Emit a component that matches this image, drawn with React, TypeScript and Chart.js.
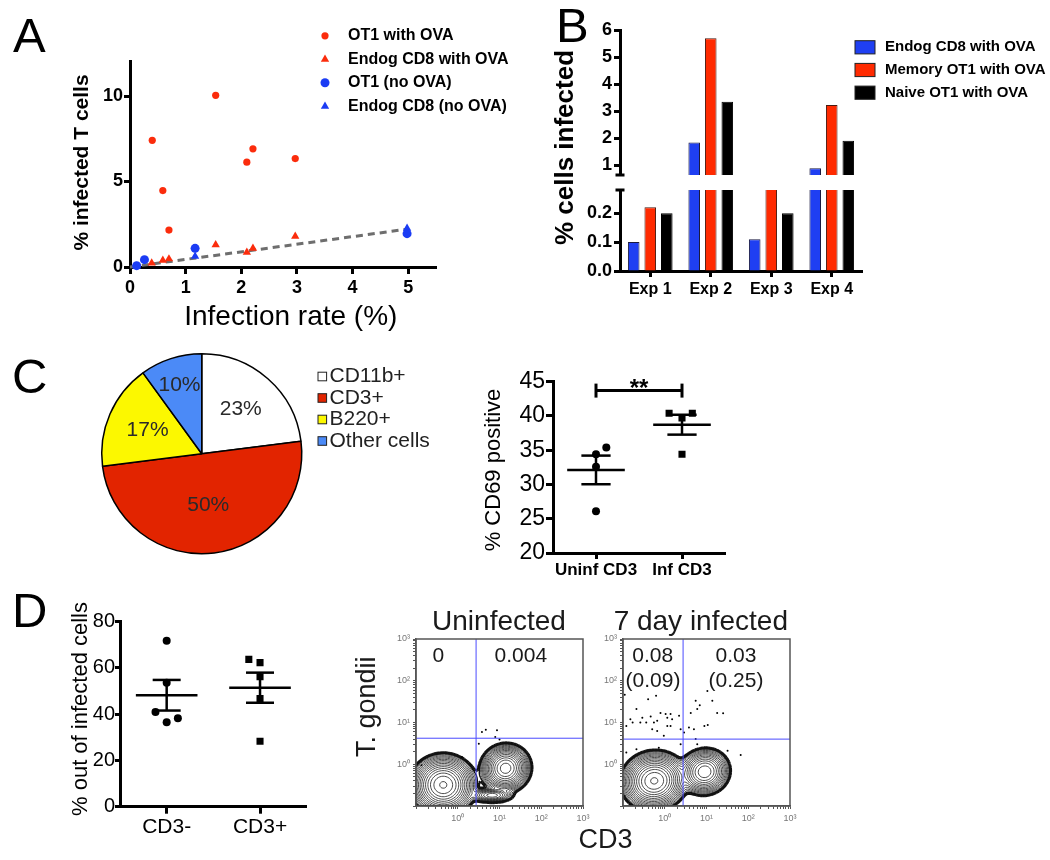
import React, { useEffect, useRef } from 'react';
import { Chart, registerables } from 'chart.js';

Chart.register(...registerables);

const W = 1050;
const H = 860;
const FONT = "'Liberation Sans', Arial, Helvetica, sans-serif";
Chart.defaults.font.family = FONT;
Chart.defaults.color = '#000';

// ================= DATA =================
// Panel A: % infected T cells vs infection rate (%)
const aOT1OvaRate = [0.40, 0.59, 0.70, 1.54, 2.10, 2.21, 2.97];
const aOT1OvaInfected = [7.41, 4.47, 2.16, 10.04, 6.13, 6.91, 6.34];
const aEndogOvaRate = [0.39, 0.59, 0.70, 1.54, 2.10, 2.21, 2.97];
const aEndogOvaInfected = [0.23, 0.39, 0.47, 1.30, 0.86, 1.09, 1.79];
const aOT1NoOvaRate = [0.12, 0.26, 1.17, 4.98];
const aOT1NoOvaInfected = [0.08, 0.43, 1.09, 1.95];
const aEndogNoOvaRate = [0.12, 1.17, 4.98];
const aEndogNoOvaInfected = [0.04, 0.62, 2.26];
const aFitRate = [0, 5];
const aFitInfected = [0, 2.22];
const aXTicks = [0, 1, 2, 3, 4, 5];
const aYTicks = [0, 5, 10];

// Panel B: % cells infected per experiment
const bExperiments = ['Exp 1', 'Exp 2', 'Exp 3', 'Exp 4'];
const bEndogCD8 = [0.10, 1.83, 0.11, 0.88];
const bMemoryOT1 = [0.22, 5.69, 0.40, 3.22];
const bNaiveOT1 = [0.20, 3.34, 0.20, 1.90];
const bTopTicks = [1, 2, 3, 4, 5, 6];
const bBottomTicks = [0, 0.1, 0.2];

// Panel C: pie of infected cell types
const cCellTypes = ['CD11b+', 'CD3+', 'B220+', 'Other cells'];
const cCellShares = [23, 50, 17, 10];
// Panel C: % CD69 positive
const cGroups = ['Uninf CD3', 'Inf CD3'];
const cUninfCD69 = [34.4, 35.4, 32.6, 26.1];
const cInfCD69 = [40.4, 40.4, 39.7, 34.4];
const cYTicks = [20, 25, 30, 35, 40, 45];
const cSignificanceLevel = 43.7;

// Panel D: % out of infected cells
const dGroups = ['CD3-', 'CD3+'];
const dCD3Neg = [71.8, 53.6, 40.9, 36.5, 38.2];
const dCD3Pos = [63.7, 62.3, 56.2, 46.8, 28.3];
const dYTicks = [0, 20, 40, 60, 80];

// Panel D: flow cytometry (CD3 vs T. gondii), log axes
const fUninfEventsCD3 = [4.7, 3.8, 8.7, 10, 7.9, 3.2, 1.26, 0.135];
const fUninfEventsTg = [6.7, 5.9, 6.5, 3.9, 4.5, 3.1, 1.5, 0.95];
const fInfEventsCD3 = [0.11, 0.40, 0.62, 0.21, 0.15, 0.29, 0.46, 0.66, 1.05, 1.38, 1.15, 1.5, 2.2, 0.79, 0.17, 0.26, 0.36, 0.55, 1.15, 1.38, 0.5, 0.66, 0.95, 2.4, 0.12,
  10.5, 5.5, 6.9, 13.8, 6.0, 4.2, 18, 25, 10.7, 8.9, 5.0, 3.8, 2.9, 5.5,
  0.21, 0.72, 6.0, 66, 0.12, 32, 2.4];
const fInfEventsTg = [46, 36, 44, 21, 12, 13, 14, 11, 16, 16, 13, 12, 14.5, 17, 10, 10, 10, 10, 8.3, 8.3, 6.9, 6.3, 4.8, 6.9, 8.3,
  57, 33, 26, 33, 21, 17, 17, 16.6, 8.7, 8.3, 6.9, 7.6, 5.8, 4.0,
  2.3, 2.5, 3.0, 1.66, 1.9, 2.1, 3.0];
// cell populations behind the contours: centre (CD3, T. gondii), spread (decades), tilt (deg), relative weight
const fUninfPopCD3 = [0.45, 14, 6.6];
const fUninfPopTg = [0.32, 0.8, 0.18];
const fUninfPopSigmaCD3 = [0.27, 0.21, 0.2];
const fUninfPopSigmaTg = [0.25, 0.2, 0.07];
const fUninfPopTilt = [0, 20, 0];
const fUninfPopWeight = [1, 0.85, 0.2];
const fInfPopCD3 = [0.56, 9];
const fInfPopTg = [0.4, 0.66];
const fInfPopSigmaCD3 = [0.27, 0.22];
const fInfPopSigmaTg = [0.24, 0.2];
const fInfPopTilt = [10, 15];
const fInfPopWeight = [1, 0.5];
const fUninfGate = [2.75, 4.2];
const fInfGate = [2.75, 4.0];

// ================= STYLE / HELPERS =================
const RED = '#fb2c0c';
const BLUE = '#1b3cf4';

interface Txt { s: string; x: number; y: number; size: number; bold?: boolean; align?: CanvasTextAlign; base?: CanvasTextBaseline; rot?: number; color?: string; }

function drawTexts(ctx: CanvasRenderingContext2D, items: Txt[]) {
  for (const t of items) {
    ctx.save();
    ctx.font = `${t.bold ? 'bold ' : ''}${t.size}px ${FONT}`;
    ctx.fillStyle = t.color || '#000';
    ctx.textAlign = t.align || 'center';
    ctx.textBaseline = t.base || 'alphabetic';
    ctx.translate(t.x, t.y);
    if (t.rot) ctx.rotate((t.rot * Math.PI) / 180);
    ctx.fillText(t.s, 0, 0);
    ctx.restore();
  }
}

function seg(ctx: CanvasRenderingContext2D, x1: number, y1: number, x2: number, y2: number, w: number, color = '#000') {
  ctx.save();
  ctx.strokeStyle = color;
  ctx.lineWidth = w;
  ctx.beginPath();
  ctx.moveTo(x1, y1);
  ctx.lineTo(x2, y2);
  ctx.stroke();
  ctx.restore();
}

function marker(ctx: CanvasRenderingContext2D, style: string, x: number, y: number, r: number, color: string) {
  ctx.save();
  ctx.fillStyle = color;
  ctx.beginPath();
  if (style === 'triangle') {
    let rad = 0;
    ctx.moveTo(x + Math.sin(rad) * r, y - Math.cos(rad) * r);
    rad += (2 * Math.PI) / 3;
    ctx.lineTo(x + Math.sin(rad) * r, y - Math.cos(rad) * r);
    rad += (2 * Math.PI) / 3;
    ctx.lineTo(x + Math.sin(rad) * r, y - Math.cos(rad) * r);
    ctx.closePath();
  } else {
    ctx.arc(x, y, r, 0, Math.PI * 2);
  }
  ctx.fill();
  ctx.restore();
}

const fixW = (w: number) => (s: any) => { s.width = w; };
const fixH = (h: number) => (s: any) => { s.height = h; };
const setTicks = (vals: number[]) => (s: any) => { s.ticks = vals.map((v) => ({ value: v })); };

// padding so that the chart area lands at (l,t)-(r,b) on the full-page canvas
function area(l: number, t: number, r: number, b: number, yw: number, xh: number) {
  return { left: l - yw, top: t, right: W - r, bottom: H - b - xh };
}

function baseOptions(padding: any) {
  return {
    responsive: false,
    animation: false,
    devicePixelRatio: 1,
    events: [],
    layout: { padding },
    plugins: { legend: { display: false }, tooltip: { enabled: false }, title: { display: false } },
  };
}

function prismScale(extra: any, tickLen: number, size: number, bold: boolean, pad: number, lw = 3) {
  return {
    ...extra,
    border: { display: true, color: '#000', width: lw },
    grid: { display: true, drawOnChartArea: false, drawTicks: true, tickLength: tickLen, tickWidth: lw, color: '#000', offset: false },
    ticks: {
      color: '#000',
      font: { family: FONT, size, weight: bold ? 'bold' : 'normal' },
      padding: pad,
      autoSkip: false,
      maxRotation: 0,
      minRotation: 0,
      ...(extra.ticks || {}),
    },
  };
}

const pts = (xs: number[], ys: number[]) => xs.map((x, i) => ({ x, y: ys[i] }));

function meanSem(v: number[]): [number, number] {
  const n = v.length;
  const m = v.reduce((a, b) => a + b, 0) / n;
  const sd = Math.sqrt(v.reduce((a, b) => a + (b - m) ** 2, 0) / (n - 1));
  return [m, sd / Math.sqrt(n)];
}

function drawMeanSem(chart: any, groups: number[][], half: number, cap: number) {
  const { ctx, scales } = chart;
  const X = (v: number) => scales.x.getPixelForValue(v);
  const Y = (v: number) => scales.y.getPixelForValue(v);
  groups.forEach((vals, i) => {
    const g = i + 1;
    const [m, s] = meanSem(vals);
    seg(ctx, X(g - half), Y(m), X(g + half), Y(m), 2.5);
    seg(ctx, X(g), Y(m - s), X(g), Y(m + s), 2.5);
    seg(ctx, X(g - cap), Y(m + s), X(g + cap), Y(m + s), 2.5);
    seg(ctx, X(g - cap), Y(m - s), X(g + cap), Y(m - s), 2.5);
  });
}

// ================= PANEL A =================
function chartA(): any {
  return {
    type: 'scatter',
    data: {
      datasets: [
        { label: 'OT1 with OVA', data: pts(aOT1OvaRate, aOT1OvaInfected), pointStyle: 'circle', pointRadius: 3.6, pointBackgroundColor: RED, pointBorderWidth: 0, clip: false },
        { label: 'Endog CD8 with OVA', data: pts(aEndogOvaRate, aEndogOvaInfected), pointStyle: 'triangle', pointRadius: 4.8, pointBackgroundColor: RED, pointBorderWidth: 0, clip: false },
        { label: 'OT1 (no OVA)', data: pts(aOT1NoOvaRate, aOT1NoOvaInfected), pointStyle: 'circle', pointRadius: 4.5, pointBackgroundColor: BLUE, pointBorderWidth: 0, clip: false },
        { label: 'Endog CD8 (no OVA)', data: pts(aEndogNoOvaRate, aEndogNoOvaInfected), pointStyle: 'triangle', pointRadius: 4.8, pointBackgroundColor: BLUE, pointBorderWidth: 0, clip: false },
        { label: 'fit', data: pts(aFitRate, aFitInfected), showLine: true, pointRadius: 0, borderColor: '#6e6e6e', borderWidth: 3, borderDash: [7, 5], clip: false },
      ],
    },
    options: {
      ...baseOptions(area(130, 61.8, 436, 267, 70, 73)),
      scales: {
        x: prismScale({ type: 'linear', min: 0, max: 5.5, afterBuildTicks: setTicks(aXTicks), afterFit: fixH(73) }, 7, 18, true, 3),
        y: prismScale({ type: 'linear', min: 0, max: 12, afterBuildTicks: setTicks(aYTicks), afterFit: fixW(70) }, 6, 18, true, 1),
      },
    },
    plugins: [
      {
        id: 'panelA',
        afterDraw(chart: any) {
          const ctx = chart.ctx;
          chart.data.datasets.slice(0, 4).forEach((ds: any, i: number) => {
            const y = 35.8 + i * 23.5;
            marker(ctx, ds.pointStyle, 325, y, ds.pointRadius, ds.pointBackgroundColor);
            drawTexts(ctx, [{ s: ds.label, x: 348, y, size: 16, bold: true, align: 'left', base: 'middle' }]);
          });
          drawTexts(ctx, [
            { s: 'A', x: 13, y: 52, size: 49, align: 'left' },
            { s: '% infected T cells', x: 88, y: 162.5, size: 21, bold: true, rot: -90 },
            { s: 'Infection rate (%)', x: 290.8, y: 325, size: 28 },
          ]);
        },
      },
    ],
  };
}

// ================= PANEL B =================
function bDatasets() {
  return [
    { label: 'Endog CD8 with OVA', data: bEndogCD8, backgroundColor: '#1f3ff2', borderColor: '#1a1a40', borderWidth: 1 },
    { label: 'Memory OT1 with OVA', data: bMemoryOT1, backgroundColor: '#ff2a00', borderColor: '#4a1a10', borderWidth: 1 },
    { label: 'Naive OT1 with OVA', data: bNaiveOT1, backgroundColor: '#000000', borderColor: '#000', borderWidth: 1 },
  ].map((d) => ({ ...d, categoryPercentage: 0.82, barPercentage: 0.7 }));
}

function chartBTop(): any {
  return {
    type: 'bar',
    data: { labels: bExperiments, datasets: bDatasets() },
    options: {
      ...baseOptions(area(620, 30, 862, 175, 60, 0)),
      scales: {
        x: { display: false },
        y: prismScale({ type: 'linear', min: 0.63, max: 6, afterBuildTicks: setTicks(bTopTicks), afterFit: fixW(60) }, 6, 18, true, 2),
      },
    },
    plugins: [
      {
        id: 'panelBTop',
        afterDraw(chart: any) {
          const ctx = chart.ctx;
          const a = chart.chartArea;
          seg(ctx, a.left - 4.5, a.bottom, a.left + 4.5, a.bottom, 3);
          chart.data.datasets.forEach((ds: any, i: number) => {
            const y = 47.3 + i * 22.7;
            ctx.save();
            ctx.fillStyle = ds.backgroundColor;
            ctx.fillRect(855, y - 6.6, 20, 13.2);
            ctx.strokeStyle = '#222';
            ctx.lineWidth = 1;
            ctx.strokeRect(855, y - 6.6, 20, 13.2);
            ctx.restore();
            drawTexts(ctx, [{ s: ds.label, x: 885, y, size: 15, bold: true, align: 'left', base: 'middle' }]);
          });
          drawTexts(ctx, [
            { s: 'B', x: 556, y: 42, size: 49, align: 'left' },
            { s: '% cells infected', x: 573, y: 147.5, size: 26, bold: true, rot: -90 },
          ]);
        },
      },
    ],
  };
}

function chartBBottom(): any {
  return {
    type: 'bar',
    data: { labels: bExperiments, datasets: bDatasets() },
    options: {
      ...baseOptions(area(620, 190, 862, 271, 60, 29)),
      scales: {
        x: prismScale({ type: 'category', afterFit: fixH(29), offset: true }, 6, 16, true, 3),
        y: prismScale({ type: 'linear', min: 0, max: 0.28, afterBuildTicks: setTicks(bBottomTicks), afterFit: fixW(60), ticks: { callback: (v: number) => v.toFixed(1) } }, 6, 18, true, 2),
      },
    },
    plugins: [
      {
        id: 'panelBBottom',
        afterDraw(chart: any) {
          const a = chart.chartArea;
          seg(chart.ctx, a.left - 4.5, a.top, a.left + 4.5, a.top, 3);
        },
      },
    ],
  };
}

// ================= PANEL C =================
const pieLabelRadius = [0.59, 0.52, 0.59, 0.72];
function chartCPie(): any {
  return {
    type: 'pie',
    data: {
      labels: cCellTypes,
      datasets: [{ data: cCellShares, backgroundColor: ['#ffffff', '#e22400', '#fcf800', '#4b8af7'], borderColor: '#000', borderWidth: 1.5 }],
    },
    options: baseOptions({ left: 101, top: 353, right: W - 302.5, bottom: H - 554.5 }),
    plugins: [
      {
        id: 'panelCPie',
        afterDraw(chart: any) {
          const ctx = chart.ctx;
          const meta = chart.getDatasetMeta(0);
          const ds = chart.data.datasets[0];
          meta.data.forEach((arc: any, i: number) => {
            const mid = (arc.startAngle + arc.endAngle) / 2;
            const r = arc.outerRadius * pieLabelRadius[i];
            drawTexts(ctx, [{ s: `${ds.data[i]}%`, x: arc.x + Math.cos(mid) * r, y: arc.y + Math.sin(mid) * r, size: 21, base: 'middle', color: '#2a2a2a' }]);
          });
          chart.data.labels.forEach((lab: string, i: number) => {
            const y = 376.5 + i * 21.5;
            ctx.save();
            ctx.fillStyle = ds.backgroundColor[i];
            ctx.fillRect(318, y - 4.3, 8.6, 8.6);
            ctx.strokeStyle = '#222';
            ctx.lineWidth = 1;
            ctx.strokeRect(318, y - 4.3, 8.6, 8.6);
            ctx.restore();
            drawTexts(ctx, [{ s: lab, x: 329.5, y, size: 21, align: 'left', base: 'middle', color: '#222' }]);
          });
          drawTexts(ctx, [{ s: 'C', x: 12, y: 393, size: 49, align: 'left' }]);
        },
      },
    ],
  };
}

const cUninfJitter = [0, 0.12, 0, 0];
const cInfJitter = [-0.15, 0.12, 0, 0];
function chartCScatter(): any {
  return {
    type: 'scatter',
    data: {
      datasets: [
        { label: 'Uninf CD3', data: cUninfCD69.map((v, i) => ({ x: 1 + cUninfJitter[i], y: v })), pointStyle: 'circle', pointRadius: 4, pointBackgroundColor: '#000', pointBorderWidth: 0 },
        { label: 'Inf CD3', data: cInfCD69.map((v, i) => ({ x: 2 + cInfJitter[i], y: v })), pointStyle: 'rect', pointRadius: 5, pointBackgroundColor: '#000', pointBorderWidth: 0 },
      ],
    },
    options: {
      ...baseOptions(area(553, 381.7, 725, 553, 45, 37)),
      scales: {
        x: prismScale({ type: 'linear', min: 0.5, max: 2.5, afterBuildTicks: setTicks([1, 2]), afterFit: fixH(37), ticks: { callback: (v: number) => cGroups[Math.round(v) - 1] } }, 6, 17, true, 1),
        y: prismScale({ type: 'linear', min: 20, max: 45, afterBuildTicks: setTicks(cYTicks), afterFit: fixW(45) }, 7, 23, false, 1),
      },
    },
    plugins: [
      {
        id: 'panelCScatter',
        afterDatasetsDraw(chart: any) {
          drawMeanSem(chart, [cUninfCD69, cInfCD69], 0.335, 0.17);
          const { ctx, scales } = chart;
          const yb = scales.y.getPixelForValue(cSignificanceLevel);
          const x1 = scales.x.getPixelForValue(1);
          const x2 = scales.x.getPixelForValue(2);
          seg(ctx, x1, yb, x2, yb, 3);
          seg(ctx, x1, yb - 7, x1, yb + 7, 3);
          seg(ctx, x2, yb - 7, x2, yb + 7, 3);
          drawTexts(ctx, [
            { s: '**', x: (x1 + x2) / 2, y: yb + 5.5, size: 24, bold: true },
            { s: '% CD69 positive', x: 500, y: 470, size: 22, rot: -90 },
          ]);
        },
      },
    ],
  };
}

// ================= PANEL D =================
const dNegJitter = [0, 0, -0.12, 0, 0.12];
const dPosJitter = [-0.12, 0, 0, 0, 0];
function chartDScatter(): any {
  return {
    type: 'scatter',
    data: {
      datasets: [
        { label: 'CD3-', data: dCD3Neg.map((v, i) => ({ x: 1 + dNegJitter[i], y: v })), pointStyle: 'circle', pointRadius: 4, pointBackgroundColor: '#000', pointBorderWidth: 0 },
        { label: 'CD3+', data: dCD3Pos.map((v, i) => ({ x: 2 + dPosJitter[i], y: v })), pointStyle: 'rect', pointRadius: 5, pointBackgroundColor: '#000', pointBorderWidth: 0 },
      ],
    },
    options: {
      ...baseOptions(area(120, 621.7, 306.7, 806.7, 50, 43)),
      scales: {
        x: prismScale({ type: 'linear', min: 0.5, max: 2.5, afterBuildTicks: setTicks([1, 2]), afterFit: fixH(43), ticks: { callback: (v: number) => dGroups[Math.round(v) - 1] } }, 7, 21, false, 1),
        y: prismScale({ type: 'linear', min: 0, max: 80, afterBuildTicks: setTicks(dYTicks), afterFit: fixW(50) }, 5, 20, false, 0),
      },
    },
    plugins: [
      {
        id: 'panelDScatter',
        afterDatasetsDraw(chart: any) {
          drawMeanSem(chart, [dCD3Neg, dCD3Pos], 0.33, 0.15);
          drawTexts(chart.ctx, [
            { s: 'D', x: 12, y: 627, size: 49, align: 'left' },
            { s: '% out of infected cells', x: 86.5, y: 709, size: 22, rot: -90 },
          ]);
        },
      },
    ],
  };
}

const logTicks: number[] = [];
[0.1, 1, 10, 100].forEach((d) => { for (let k = 1; k <= 9; k++) logTicks.push(d * k); });
logTicks.push(1000);
const decadeLabel = (v: number) => {
  const m: [number, string][] = [[1, '10⁰'], [10, '10¹'], [100, '10²'], [1000, '10³']];
  const f = m.find(([d]) => Math.abs(v - d) < 1e-6);
  return f ? f[1] : '';
};

function flowScale(extra: any, pad: number) {
  return {
    ...extra,
    type: 'logarithmic',
    min: 0.1,
    max: 1000,
    afterBuildTicks: setTicks(logTicks),
    border: { display: true, color: '#555', width: 1.5 },
    grid: { display: true, drawOnChartArea: false, drawTicks: true, tickLength: 3, tickWidth: 1, color: '#555' },
    ticks: { color: '#777', font: { family: FONT, size: 9 }, padding: pad, autoSkip: false, maxRotation: 0, minRotation: 0, callback: (v: number) => decadeLabel(v) },
  };
}

interface Pops { cx: number[]; cy: number[]; sx: number[]; sy: number[]; tilt: number[]; w: number[]; }

// marching-squares contour lines of the population density, sampled through the chart's log scales
function drawContours(chart: any, pops: Pops) {
  const { ctx, chartArea: a, scales } = chart;
  const step = 1.5;
  const nx = Math.ceil((a.right - a.left) / step) + 1;
  const ny = Math.ceil((a.bottom - a.top) / step) + 1;
  const lxs: number[] = [];
  const lys: number[] = [];
  for (let i = 0; i < nx; i++) lxs.push(Math.log10(scales.x.getValueForPixel(a.left + i * step)));
  for (let j = 0; j < ny; j++) lys.push(Math.log10(scales.y.getValueForPixel(a.top + j * step)));
  const g: number[][] = [];
  let gmax = 0;
  for (let j = 0; j < ny; j++) {
    const row: number[] = [];
    for (let i = 0; i < nx; i++) {
      let d = 0;
      pops.cx.forEach((c, p) => {
        const r = (pops.tilt[p] * Math.PI) / 180;
        const dx = lxs[i] - Math.log10(c);
        const dy = lys[j] - Math.log10(pops.cy[p]);
        const u = (dx * Math.cos(r) + dy * Math.sin(r)) / pops.sx[p];
        const v = (-dx * Math.sin(r) + dy * Math.cos(r)) / pops.sy[p];
        d += pops.w[p] * Math.exp(-0.5 * (u * u + v * v));
      });
      row.push(d);
      if (d > gmax) gmax = d;
    }
    g.push(row);
  }
  ctx.save();
  ctx.beginPath();
  ctx.rect(a.left, a.top, a.right - a.left, a.bottom - a.top);
  ctx.clip();
  ctx.strokeStyle = '#111';
  const NL = 17;
  for (let k = 0; k < NL; k++) {
    const level = gmax * 0.95 * Math.pow(0.745, k);
    ctx.lineWidth = k === NL - 1 ? 2.8 : k === NL - 2 ? 1.4 : 0.75;
    ctx.beginPath();
    for (let j = 0; j < ny - 1; j++) {
      for (let i = 0; i < nx - 1; i++) {
        const v0 = g[j][i], v1 = g[j][i + 1], v2 = g[j + 1][i + 1], v3 = g[j + 1][i];
        const idx = (v0 > level ? 8 : 0) | (v1 > level ? 4 : 0) | (v2 > level ? 2 : 0) | (v3 > level ? 1 : 0);
        if (idx === 0 || idx === 15) continue;
        const x = a.left + i * step;
        const y = a.top + j * step;
        const T: [number, number] = [x + (step * (level - v0)) / (v1 - v0), y];
        const R: [number, number] = [x + step, y + (step * (level - v1)) / (v2 - v1)];
        const B: [number, number] = [x + (step * (level - v3)) / (v2 - v3), y + step];
        const L: [number, number] = [x, y + (step * (level - v0)) / (v3 - v0)];
        const s = (p: [number, number], q: [number, number]) => { ctx.moveTo(p[0], p[1]); ctx.lineTo(q[0], q[1]); };
        switch (idx) {
          case 1: case 14: s(L, B); break;
          case 2: case 13: s(B, R); break;
          case 3: case 12: s(L, R); break;
          case 4: case 11: s(T, R); break;
          case 5: s(L, T); s(B, R); break;
          case 6: case 9: s(T, B); break;
          case 7: case 8: s(L, T); break;
          case 10: s(L, B); s(T, R); break;
        }
      }
    }
    ctx.stroke();
  }
  ctx.restore();
}

function chartFlow(l: number, r: number, evX: number[], evY: number[], pops: Pops, gate: number[], texts: Txt[]): any {
  return {
    type: 'scatter',
    data: { datasets: [{ label: 'events', data: pts(evX, evY), pointRadius: 1, pointBackgroundColor: '#000', pointBorderWidth: 0 }] },
    options: {
      ...baseOptions(area(l, 639, r, 806, 25, 25)),
      scales: {
        x: flowScale({ afterFit: fixH(25) }, 4),
        y: flowScale({ afterFit: fixW(25) }, 3),
      },
    },
    plugins: [
      {
        id: 'flow',
        beforeDatasetsDraw(chart: any) {
          drawContours(chart, pops);
        },
        afterDatasetsDraw(chart: any) {
          const { ctx, chartArea: a, scales } = chart;
          const gx = scales.x.getPixelForValue(gate[0]);
          const gy = scales.y.getPixelForValue(gate[1]);
          seg(ctx, gx, a.top, gx, a.bottom, 1, '#4a4aff');
          seg(ctx, a.left, gy, a.right, gy, 1, '#4a4aff');
          ctx.save();
          ctx.strokeStyle = '#555';
          ctx.lineWidth = 1.5;
          ctx.strokeRect(a.left, a.top, a.right - a.left, a.bottom - a.top);
          ctx.restore();
          drawTexts(ctx, texts);
        },
      },
    ],
  };
}

function chartFlowUninf(): any {
  return chartFlow(416, 583, fUninfEventsCD3, fUninfEventsTg,
    { cx: fUninfPopCD3, cy: fUninfPopTg, sx: fUninfPopSigmaCD3, sy: fUninfPopSigmaTg, tilt: fUninfPopTilt, w: fUninfPopWeight },
    fUninfGate, [
      { s: 'Uninfected', x: 499, y: 630, size: 28, color: '#1a1a1a' },
      { s: '0', x: 438.3, y: 661.7, size: 21, color: '#1a1a1a' },
      { s: '0.004', x: 520.8, y: 661.7, size: 21, color: '#1a1a1a' },
      { s: 'T. gondii', x: 375, y: 706.7, size: 27, rot: -90, color: '#1a1a1a' },
    ]);
}

function chartFlowInf(): any {
  return chartFlow(623, 790, fInfEventsCD3, fInfEventsTg,
    { cx: fInfPopCD3, cy: fInfPopTg, sx: fInfPopSigmaCD3, sy: fInfPopSigmaTg, tilt: fInfPopTilt, w: fInfPopWeight },
    fInfGate, [
      { s: '7 day infected', x: 700.8, y: 630, size: 28, color: '#1a1a1a' },
      { s: '0.08', x: 652.7, y: 661.7, size: 21, color: '#1a1a1a' },
      { s: '(0.09)', x: 653, y: 686.7, size: 21, color: '#1a1a1a' },
      { s: '0.03', x: 736, y: 661.7, size: 21, color: '#1a1a1a' },
      { s: '(0.25)', x: 736, y: 686.7, size: 21, color: '#1a1a1a' },
      { s: 'CD3', x: 605.5, y: 848.3, size: 27, color: '#1a1a1a' },
    ]);
}

// ================= COMPONENTS =================
function ChartCanvas({ make }: { make: () => any }) {
  const ref = useRef<HTMLCanvasElement>(null);
  useEffect(() => {
    if (!ref.current) return;
    const chart = new Chart(ref.current, make());
    return () => chart.destroy();
  }, [make]);
  return (
    <canvas
      ref={ref}
      width={W}
      height={H}
      style={{ position: 'absolute', left: 0, top: 0, width: W, height: H }}
    />
  );
}

const makers = [chartA, chartBTop, chartBBottom, chartCPie, chartCScatter, chartDScatter, chartFlowUninf, chartFlowInf];

export default function App() {
  return (
    <div style={{ position: 'absolute', left: 0, top: 0, width: W, height: H, background: '#fff', overflow: 'hidden' }}>
      {makers.map((m, i) => (
        <ChartCanvas key={i} make={m} />
      ))}
    </div>
  );
}
